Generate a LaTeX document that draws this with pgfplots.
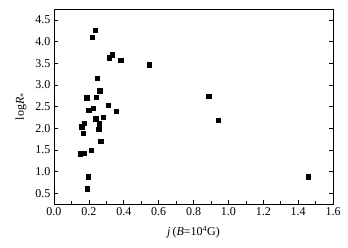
\documentclass[border=0pt]{standalone}
\usepackage{fontspec}
\setmainfont{Liberation Serif}
\usepackage{pgfplots}
\pgfplotsset{compat=1.18}
\begin{document}
\begin{tikzpicture}
\begin{axis}[
  scale only axis,
  width=279pt, height=195pt,
  xmin=0, xmax=1.6, ymin=0.25, ymax=4.75,
  xtick={0,0.2,...,1.6},
  minor x tick num=1,
  ytick={0.5,1,...,4.5},
  xtick pos=bottom, ytick pos=both,
  yticklabel pos=left,
  tick align=inside,
  major tick length=4pt, minor tick length=2.5pt,
  axis line style={line width=0.9pt},
  every tick/.style={black, line width=0.6pt},
  /pgf/number format/assume math mode=true,
  /pgf/number format/fixed, /pgf/number format/precision=1,
  /pgf/number format/fixed zerofill,
  tick label style={font=\fontsize{12}{14}\selectfont},
  xlabel={\textit{j}\,(\textit{B}=10\textsuperscript{4}G)},
  ylabel={log\textit{R}\textsubscript{*}},
  every axis x label/.style={at={(axis description cs:0.5,-0.144)}, anchor=center, font=\fontsize{12}{14}\selectfont},
  every axis y label/.style={at={(axis description cs:-0.118,0.5)}, anchor=center, rotate=90, font=\fontsize{12}{14}\selectfont},
]
\addplot[only marks, mark=square*, mark size=2.2pt, black] coordinates {
(0.237,4.26) (0.220,4.10) (0.334,3.70) (0.315,3.63) (0.382,3.57)
(0.547,3.46) (0.247,3.15) (0.262,2.86) (0.187,2.70) (0.241,2.72)
(0.310,2.53) (0.357,2.39) (0.225,2.46) (0.200,2.41) (0.281,2.25)
(0.239,2.22) (0.172,2.12) (0.159,2.03) (0.260,2.10) (0.256,1.98)
(0.166,1.88) (0.268,1.70) (0.214,1.49) (0.151,1.41) (0.174,1.42)
(0.195,0.88) (0.189,0.60) (0.887,2.74) (0.942,2.18) (1.458,0.88)
};
\coordinate (bl) at (rel axis cs:0,0);
\coordinate (tr) at (rel axis cs:1,1);
\end{axis}
\pgfresetboundingbox
\path[use as bounding box] ([xshift=-54pt,yshift=-44pt]bl) rectangle ([xshift=15pt,yshift=9pt]tr);
\end{tikzpicture}
\end{document}
